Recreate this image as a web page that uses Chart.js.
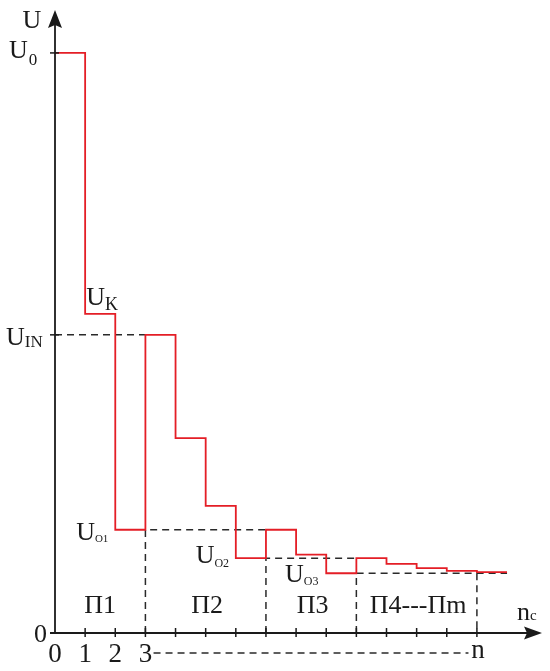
<!DOCTYPE html>
<html>
<head>
<meta charset="utf-8">
<script src="https://cdn.jsdelivr.net/npm/chart.js@4/dist/chart.umd.min.js"></script>
<style>
  html, body { margin: 0; padding: 0; background: #ffffff; }
  #wrap { width: 550px; height: 671px; position: relative; }
</style>
</head>
<body>
<div id="wrap"><canvas id="c"></canvas></div>
<script>
// ---- data ----
const stepStarts = [0, 1, 2, 3, 4, 5, 6, 7, 8, 9, 10, 11, 12, 13, 14];
const stepEnd = 15;
const uSteps = [100, 55.0, 17.8, 51.4, 33.6, 21.9, 12.9, 17.8, 13.5, 10.3, 12.9, 11.9, 11.2, 10.7, 10.5];

const U0 = 100, UK = 55.0, UIN = 51.4, UO1 = 17.8, UO2 = 12.9, UO3 = 10.3;

const xTickValues = [0, 1, 2, 3];
const xTickLabels = ['0', '1', '2', '3'];
const nTickValue = 14;
const minorTicks = [1, 2, 3, 4, 5, 6, 7, 8, 9, 10, 11, 12, 13, 14];

const zoneCenters = [1.5, 5.05, 8.55, 12.05];
const zoneLabels = ['П1', 'П2', 'П3', 'П4---Пm'];

const X_MAX = 16.16;
const Y_MAX = 107.4;
const BOTTOM_LINE_Y = -3.45;
const BOTTOM_LINE_FROM = 3.27, BOTTOM_LINE_TO = 13.72;

// ---- build datasets ----
const redPoints = stepStarts.map((x, i) => ({ x: x, y: uSteps[i] }));
redPoints.push({ x: stepEnd, y: uSteps[uSteps.length - 1] });

const dashColor = '#2a2a2a';
function dashed(points, clip) {
  return {
    type: 'line', data: points, borderColor: dashColor, borderWidth: 1.5,
    borderDash: [7, 5], pointRadius: 0, fill: false, tension: 0,
    clip: clip === false ? false : undefined, order: 2
  };
}

const datasets = [
  {
    type: 'line', label: 'U', data: redPoints, stepped: 'before',
    borderColor: '#e41e26', borderWidth: 1.8, pointRadius: 0, fill: false, order: 1
  },
  dashed([{ x: 0, y: UIN }, { x: 3, y: UIN }]),
  dashed([{ x: 3, y: 0 }, { x: 3, y: UO1 }, { x: 7, y: UO1 }]),
  dashed([{ x: 7, y: 0 }, { x: 7, y: UO2 }, { x: 10, y: UO2 }]),
  dashed([{ x: 10, y: 0 }, { x: 10, y: UO3 }, { x: 14, y: UO3 }, { x: 15, y: UO3 }]),
  dashed([{ x: 14, y: UO3 }, { x: 14, y: 0 }]),
  dashed([{ x: BOTTOM_LINE_FROM, y: BOTTOM_LINE_Y }, { x: BOTTOM_LINE_TO, y: BOTTOM_LINE_Y }], false)
];

// ---- axes + labels plugin ----
const SERIF = '"Liberation Serif", "DejaVu Serif", serif';
const axesPlugin = {
  id: 'axesArrows',
  afterDatasetsDraw(chart) {
    const ctx = chart.ctx;
    const xs = chart.scales.x, ys = chart.scales.y;
    const px = v => xs.getPixelForValue(v);
    const py = v => ys.getPixelForValue(v);
    const ca = chart.chartArea;
    const x0 = px(0), y0 = py(0);

    ctx.save();
    ctx.strokeStyle = '#1a1a1a';
    ctx.fillStyle = '#1a1a1a';
    ctx.lineWidth = 1.8;
    ctx.setLineDash([]);

    // y axis
    ctx.beginPath();
    ctx.moveTo(x0, y0 + 1);
    ctx.lineTo(x0, ca.top + 12);
    ctx.stroke();
    ctx.beginPath();
    ctx.moveTo(x0, ca.top);
    ctx.lineTo(x0 - 7, ca.top + 18);
    ctx.lineTo(x0, ca.top + 15);
    ctx.lineTo(x0 + 7, ca.top + 18);
    ctx.closePath();
    ctx.fill();

    // x axis
    ctx.beginPath();
    ctx.moveTo(x0 - 5, y0);
    ctx.lineTo(ca.right - 12, y0);
    ctx.stroke();
    ctx.beginPath();
    ctx.moveTo(ca.right, y0);
    ctx.lineTo(ca.right - 18, y0 - 6.5);
    ctx.lineTo(ca.right - 15, y0);
    ctx.lineTo(ca.right - 18, y0 + 6.5);
    ctx.closePath();
    ctx.fill();

    // x ticks
    ctx.lineWidth = 1.5;
    minorTicks.forEach(v => {
      ctx.beginPath();
      ctx.moveTo(px(v), y0 - 5);
      ctx.lineTo(px(v), y0 + 4);
      ctx.stroke();
    });
    // y ticks
    [U0, UIN].forEach(v => {
      ctx.beginPath();
      ctx.moveTo(x0 - 5, py(v));
      ctx.lineTo(x0 + 4, py(v));
      ctx.stroke();
    });

    // text helpers
    function sub(main, s, left, base, mainSize, subSize, subDrop, gap) {
      ctx.textAlign = 'left';
      ctx.textBaseline = 'alphabetic';
      ctx.font = mainSize + 'px ' + SERIF;
      ctx.fillText(main, left, base);
      const w = ctx.measureText(main).width;
      ctx.font = subSize + 'px ' + SERIF;
      ctx.fillText(s, left + w + (gap || 0), base + subDrop);
    }
    function text(t, x, base, size, align) {
      ctx.textAlign = align || 'center';
      ctx.textBaseline = 'alphabetic';
      ctx.font = size + 'px ' + SERIF;
      ctx.fillText(t, x, base);
    }

    ctx.fillStyle = '#1a1a1a';
    // axis titles
    text('U', x0 - 23, ca.top + 18, 26, 'center');
    sub('n', 'c', ca.right - 25, y0 - 13, 26, 15, 0, 0);

    // y labels
    sub('U', '0', x0 - 46, py(U0) + 5, 26, 17, 7, 1);
    sub('U', 'IN', x0 - 49, py(UIN) + 10, 26, 17, 2, 0);
    text('0', x0 - 8, y0 + 9, 26, 'right');

    // level labels
    sub('U', 'K', px(1) + 1, py(UK) - 9, 26, 18, 5, 0);
    sub('U', 'O1', px(1) - 9, py(UO1) + 10, 26, 11, 2, 0);
    sub('U', 'O2', px(5) - 10, py(UO2) + 4.5, 26, 12, 4, 0);
    sub('U', 'O3', px(8) - 11, py(UO3) + 8.5, 26, 12, 3, 0);

    // zone labels
    zoneCenters.forEach((c, i) => text(zoneLabels[i], px(c), y0 - 20, 26, 'center'));

    // x tick labels
    xTickValues.forEach((v, i) => text(xTickLabels[i], px(v), y0 + 29, 27, 'center'));
    text('n', px(nTickValue) + 1, y0 + 25, 27, 'center');

    ctx.restore();
  }
};

new Chart(document.getElementById('c'), {
  type: 'line',
  data: { datasets: datasets },
  options: {
    responsive: true,
    maintainAspectRatio: false,
    animation: false,
    events: [],
    layout: { padding: { left: 55, right: 8, top: 10, bottom: 38 } },
    plugins: { legend: { display: false }, tooltip: { enabled: false } },
    scales: {
      x: { type: 'linear', min: 0, max: X_MAX, display: false },
      y: { type: 'linear', min: 0, max: Y_MAX, display: false }
    }
  },
  plugins: [axesPlugin]
});
</script>
</body>
</html>
